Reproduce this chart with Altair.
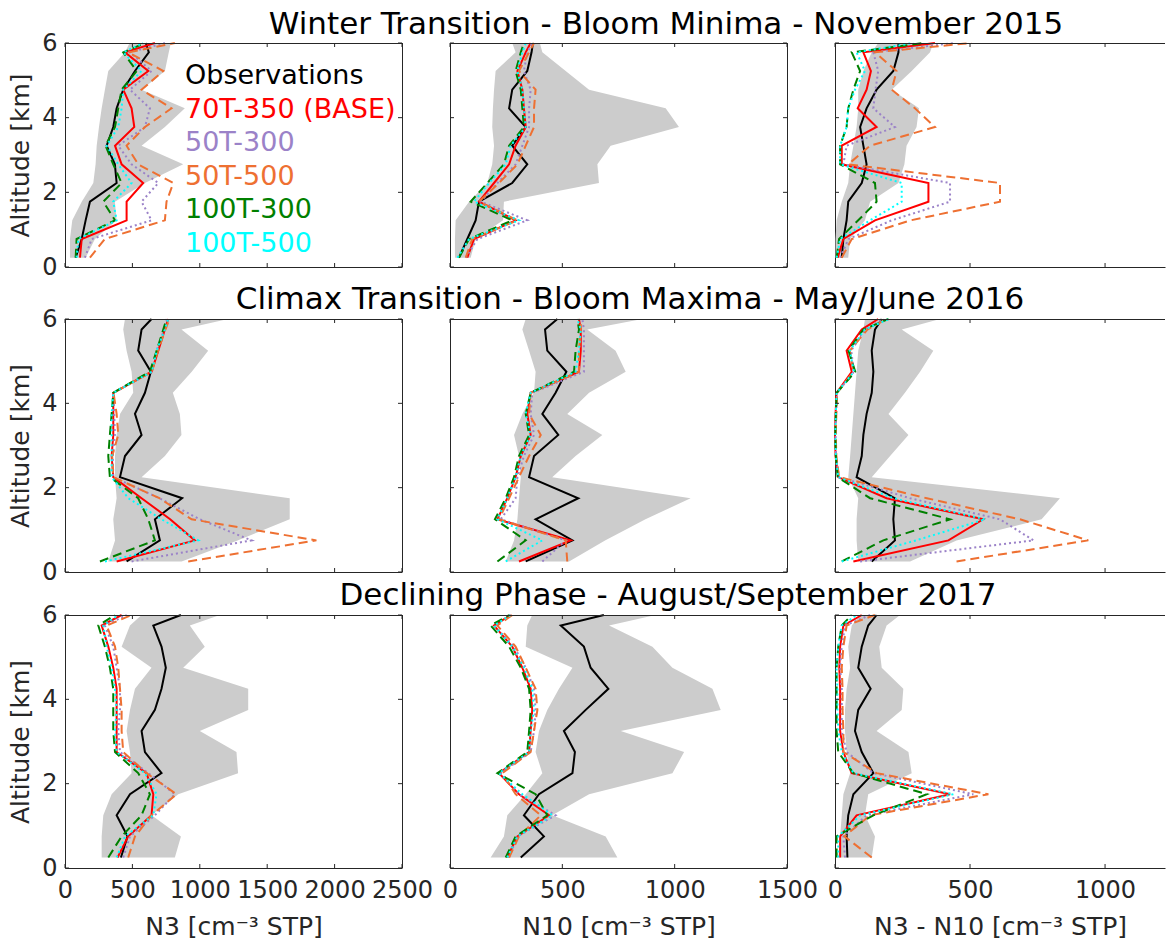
import altair as alt
import pandas as pd

# Altitude levels (km) shared by every profile
ALT = [0.25, 0.75, 1.25, 1.75, 2.25, 2.75, 3.25, 3.75, 4.25, 4.75, 5.25, 5.75, 6.0]

SERIES = ["obs", "r70_350", "r50_300", "r50_500", "r100_300", "r100_500"]
LABELS = ["Observations", "70T-350 (BASE)", "50T-300", "50T-500", "100T-300", "100T-500"]
COLORS = ["#000000", "#FF0000", "#9B82C8", "#EE7032", "#008000", "#00FFFF"]
DASHES = [None, None, [2, 3], [9, 5], [9, 5], [2, 3]]

ROW_TITLES = [
    "Winter Transition - Bloom Minima - November 2015",
    "Climax Transition - Bloom Maxima - May/June 2016",
    "Declining Phase - August/September 2017",
]
X_TITLES = ["N3 [cm\u207b\u00b3 STP]", "N10 [cm\u207b\u00b3 STP]", "N3 - N10 [cm\u207b\u00b3 STP]"]
X_MAX = [2500, 1500, 1222]
X_TICKS = [[0, 500, 1000, 1500, 2000, 2500], [0, 500, 1000, 1500], [0, 500, 1000]]
Y_TICKS = [0, 2, 4, 6]

# ---- November 2015 ----
NOV_N3 = dict(
    lo=[37, 37, 54, 124, 210, 227, 235, 252, 272, 296, 321, 445, 479],
    hi=[153, 222, 383, 370, 593, 877, 568, 741, 889, 568, 741, 770, 785],
    obs=[79, 124, 153, 185, 383, 370, 309, 358, 383, 432, 519, 622, 600],
    r70_350=[111, 124, 457, 457, 580, 420, 371, 514, 494, 432, 618, 445, 667],
    r50_300=[148, 198, 642, 568, 692, 494, 395, 593, 630, 482, 642, 482, 741],
    r50_500=[185, 296, 741, 753, 803, 543, 457, 593, 790, 568, 729, 469, 815],
    r100_300=[79, 86, 371, 284, 420, 358, 301, 371, 395, 420, 531, 432, 593],
    r100_500=[86, 99, 383, 358, 494, 395, 309, 395, 420, 432, 568, 432, 580],
)
NOV_N10 = dict(
    lo=[22, 22, 25, 85, 166, 188, 196, 188, 191, 196, 203, 292, 277],
    hi=[92, 114, 236, 240, 663, 656, 715, 1019, 960, 619, 515, 411, 400],
    obs=[40, 77, 114, 129, 277, 344, 277, 337, 263, 277, 344, 363, 369],
    r70_350=[77, 107, 292, 129, 196, 263, 292, 337, 329, 322, 300, 337, 359],
    r50_300=[70, 122, 344, 137, 211, 292, 322, 352, 352, 359, 329, 344, 366],
    r50_500=[70, 99, 300, 129, 218, 300, 337, 374, 374, 381, 307, 352, 374],
    r100_300=[40, 85, 277, 92, 166, 240, 263, 329, 322, 315, 292, 315, 329],
    r100_500=[33, 85, 307, 107, 174, 248, 270, 337, 329, 322, 300, 322, 337],
)
NOV_DIFF = dict(
    lo=[2, 2, 6, 25, 49, 56, 68, 80, 86, 86, 105, 136, 160],
    hi=[49, 56, 111, 130, 235, 257, 265, 302, 311, 210, 284, 352, 364],
    obs=[25, 31, 43, 49, 99, 117, 105, 93, 117, 154, 216, 235, 235],
    r70_350=[10, 31, 148, 346, 346, 25, 25, 154, 84, 117, 133, 105, 370],
    r50_300=[19, 50, 210, 426, 426, 31, 43, 222, 142, 150, 160, 142, 444],
    r50_500=[25, 62, 280, 611, 611, 49, 130, 370, 296, 210, 228, 148, 506],
    r100_300=[6, 15, 86, 154, 148, 19, 19, 43, 49, 68, 93, 62, 330],
    r100_500=[6, 19, 130, 247, 247, 19, 19, 43, 49, 74, 111, 80, 290],
)

# ---- May/June 2016 ----
MAY_N3 = dict(
    lo=[321, 371, 358, 383, 371, 371, 383, 408, 506, 494, 457, 432, 445],
    hi=[865, 1280, 1667, 1667, 568, 741, 864, 852, 800, 940, 1062, 864, 1210],
    obs=[457, 704, 667, 869, 408, 445, 568, 519, 593, 637, 543, 568, 642],
    r70_350=[383, 963, 780, 568, 358, 346, 358, 358, 358, 642, 692, 741, 766],
    r50_300=[494, 1383, 1000, 700, 358, 355, 370, 365, 360, 645, 680, 735, 755],
    r50_500=[914, 1865, 939, 700, 358, 350, 395, 383, 360, 645, 690, 745, 775],
    r100_300=[259, 667, 618, 543, 333, 321, 333, 346, 358, 630, 680, 729, 753],
    r100_500=[296, 988, 716, 470, 346, 346, 346, 346, 358, 645, 680, 741, 766],
)
MAY_N10 = dict(
    lo=[248, 285, 300, 307, 315, 307, 285, 322, 374, 381, 352, 322, 337],
    hi=[530, 690, 870, 1071, 455, 559, 678, 522, 619, 782, 737, 611, 856],
    obs=[337, 545, 381, 571, 352, 374, 482, 411, 470, 518, 433, 423, 478],
    r70_350=[307, 537, 211, 255, 292, 315, 359, 344, 359, 574, 582, 582, 574],
    r50_300=[411, 515, 226, 292, 300, 329, 374, 359, 366, 596, 596, 596, 589],
    r50_500=[522, 515, 218, 263, 307, 352, 404, 352, 359, 574, 574, 582, 582],
    r100_300=[211, 337, 200, 248, 285, 307, 352, 337, 359, 552, 559, 574, 567],
    r100_500=[248, 411, 211, 255, 292, 315, 359, 337, 359, 559, 574, 582, 567],
)
MAY_DIFF = dict(
    lo=[86, 80, 80, 86, 49, 56, 62, 68, 74, 80, 86, 105, 111],
    hi=[278, 450, 765, 833, 136, 204, 272, 198, 259, 315, 364, 247, 389],
    obs=[136, 222, 216, 222, 80, 99, 105, 117, 136, 142, 136, 148, 173],
    r70_350=[68, 420, 549, 191, 12, 2, 0, 2, 6, 62, 43, 99, 160],
    r50_300=[93, 735, 611, 278, 15, 4, 2, 4, 8, 70, 60, 110, 180],
    r50_500=[450, 938, 685, 340, 15, 5, 3, 5, 8, 68, 55, 120, 191],
    r100_300=[25, 179, 426, 130, 10, 3, 1, 3, 6, 75, 50, 105, 198],
    r100_500=[25, 300, 556, 216, 12, 3, 1, 3, 6, 70, 55, 110, 200],
)

# ---- August/September 2017 ----
AUG_N3 = dict(
    lo=[272, 272, 284, 346, 494, 482, 457, 482, 519, 642, 420, 482, 568],
    hi=[815, 860, 642, 840, 1284, 1272, 1000, 1359, 1359, 877, 1037, 926, 1149],
    obs=[415, 464, 383, 482, 716, 593, 568, 667, 716, 748, 716, 655, 860],
    r70_350=[390, 469, 642, 655, 605, 383, 383, 383, 383, 358, 321, 272, 420],
    r50_300=[432, 482, 667, 815, 618, 408, 395, 408, 408, 383, 358, 296, 457],
    r50_500=[469, 519, 642, 827, 605, 432, 420, 420, 408, 395, 371, 309, 494],
    r100_300=[321, 420, 568, 630, 543, 371, 358, 358, 358, 333, 296, 247, 371],
    r100_500=[383, 445, 655, 679, 593, 383, 371, 383, 371, 346, 309, 284, 395],
)
AUG_N10 = dict(
    lo=[181, 240, 255, 337, 411, 381, 396, 433, 485, 545, 337, 344, 366],
    hi=[745, 693, 455, 619, 990, 1042, 760, 1205, 1168, 990, 901, 708, 915],
    obs=[315, 418, 329, 396, 545, 556, 507, 604, 705, 626, 596, 493, 685],
    r70_350=[255, 300, 441, 307, 218, 352, 359, 366, 359, 322, 277, 196, 270],
    r50_300=[263, 300, 470, 307, 226, 359, 374, 381, 374, 337, 285, 196, 270],
    r50_500=[263, 307, 404, 292, 233, 359, 374, 389, 381, 337, 292, 211, 277],
    r100_300=[248, 292, 433, 381, 211, 344, 352, 359, 352, 315, 263, 181, 263],
    r100_500=[255, 300, 456, 322, 218, 352, 359, 374, 366, 329, 277, 196, 270],
)
AUG_DIFF = dict(
    lo=[12, 19, 25, 31, 56, 43, 37, 37, 43, 56, 49, 62, 93],
    hi=[136, 148, 111, 123, 284, 272, 154, 247, 253, 173, 164, 191, 241],
    obs=[46, 43, 49, 68, 142, 99, 74, 86, 132, 86, 99, 123, 154],
    r70_350=[19, 19, 80, 426, 62, 31, 19, 19, 19, 16, 19, 31, 99],
    r50_300=[37, 31, 117, 512, 142, 43, 25, 25, 25, 19, 25, 37, 130],
    r50_500=[136, 35, 130, 568, 154, 31, 31, 28, 28, 25, 31, 43, 148],
    r100_300=[6, 6, 142, 340, 68, 12, 6, 6, 6, 6, 12, 25, 62],
    r100_500=[12, 12, 93, 438, 68, 25, 12, 9, 9, 6, 12, 25, 80],
)

PANELS = [
    [NOV_N3, NOV_N10, NOV_DIFF],
    [MAY_N3, MAY_N10, MAY_DIFF],
    [AUG_N3, AUG_N10, AUG_DIFF],
]

# Layout (pixels)
PANEL_W = [337, 337, 330]
PANEL_H = [224, 253, 253]
GAP_H = [52, 43]
COL_GAP = 48
TITLE_CX = [216, 180, 218]   # title centre, measured from the middle panel's left edge
TITLE_DY = [9, 10, 10]       # baseline distance above the panel top
TICK_LEN = 4

INK = "#262626"
BAND = "#CCCCCC"
FONT = "DejaVu Sans"


def one_row(**kw):
    return alt.Chart(pd.DataFrame({k: [v] for k, v in kw.items()}))


def panel(data, row, col):
    w, h = PANEL_W[col], PANEL_H[row]
    last_row = row == 2
    first_col = col == 0
    xs = alt.Scale(domain=[0, X_MAX[col]], nice=False, zero=False)
    ys = alt.Scale(domain=[0, 6], nice=False, zero=False)
    xaxis = alt.Axis(
        values=X_TICKS[col], labels=last_row, title=X_TITLES[col] if last_row else "",
        format="d", ticks=False, tickSize=0, grid=False, domainColor=INK, domainWidth=1,
        labelFlush=False, labelOverlap=False, labelFontSize=24, labelColor=INK,
        labelPadding=10, titleFontSize=25, titleFontWeight="normal", titleColor=INK,
        titlePadding=12,
    )
    yaxis = alt.Axis(
        values=Y_TICKS, labels=first_col, title="Altitude [km]" if first_col else "",
        format="d", ticks=False, tickSize=0, grid=False, domainColor=INK, domainWidth=1,
        labelFontSize=24, labelColor=INK, labelPadding=8,
        titleFontSize=25, titleFontWeight="normal", titleColor=INK, titlePadding=8,
    )

    def X(f):
        return alt.X(f, type="quantitative", scale=xs, axis=xaxis)

    def Y(f):
        return alt.Y(f, type="quantitative", scale=ys, axis=yaxis)

    df = pd.DataFrame({"alt": ALT, **data})
    base = alt.Chart(df)
    layers = [
        base.mark_area(color=BAND, orient="horizontal").encode(x=X("lo"), x2="hi", y=Y("alt"))
    ]
    for s, c, d in zip(SERIES, COLORS, DASHES):
        style = dict(color=c, strokeWidth=2)
        if d:
            style["strokeDash"] = d
        layers.append(
            base.mark_line(**style).encode(x=X(s), y=Y("alt"), order=alt.Order("alt:Q"))
        )

    # box edges on top / right and inward-pointing ticks
    xt = alt.Chart(pd.DataFrame({"v": X_TICKS[col]}))
    yt = alt.Chart(pd.DataFrame({"v": Y_TICKS}))
    rule = dict(color=INK, strokeWidth=1)
    layers += [
        one_row(z=0).mark_rule(**rule).encode(x=alt.value(0), x2=alt.value(w), y=alt.value(0.5)),
        xt.mark_rule(**rule).encode(x=X("v"), y=alt.value(h), y2=alt.value(h - TICK_LEN)),
        xt.mark_rule(**rule).encode(x=X("v"), y=alt.value(0), y2=alt.value(TICK_LEN)),
        yt.mark_rule(**rule).encode(y=Y("v"), x=alt.value(0), x2=alt.value(TICK_LEN)),
    ]
    if col < 2:
        layers += [
            one_row(z=0).mark_rule(**rule).encode(x=alt.value(w + 0.5), y=alt.value(0), y2=alt.value(h)),
            yt.mark_rule(**rule).encode(y=Y("v"), x=alt.value(w), x2=alt.value(w - TICK_LEN)),
        ]

    if row == 0 and col == 0:
        for i, (lab, c) in enumerate(zip(LABELS, COLORS)):
            layers.append(
                one_row(label=lab).mark_text(
                    color=c, fontSize=27, align="left", baseline="alphabetic"
                ).encode(text="label:N", x=alt.value(120), y=alt.value(41 + 33.6 * i))
            )
    if col == 1:
        layers.append(
            one_row(t=ROW_TITLES[row]).mark_text(
                color="black", fontSize=31, align="center", baseline="alphabetic"
            ).encode(text="t:N", x=alt.value(TITLE_CX[row]), y=alt.value(-TITLE_DY[row]))
        )
    return alt.layer(*layers).properties(width=w, height=h)


def spacer(w, h):
    return (
        one_row(z=0).mark_point(opacity=0)
        .encode(x=alt.value(0), y=alt.value(0))
        .properties(width=w, height=h)
    )


cells = []
for r in range(3):
    if r > 0:
        cells += [spacer(PANEL_W[c], GAP_H[r - 1]) for c in range(3)]
    cells += [panel(PANELS[r][c], r, c) for c in range(3)]

chart = (
    alt.concat(
        *cells, columns=3, spacing={"row": 0, "column": COL_GAP},
        bounds="flush", align="each",
    )
    .properties(padding={"left": 8, "top": 9, "right": 0, "bottom": 0})
    .configure(font=FONT)
    .configure_view(strokeWidth=0)
)

chart.save("out.html", embed_options={"renderer": "svg", "actions": False})
